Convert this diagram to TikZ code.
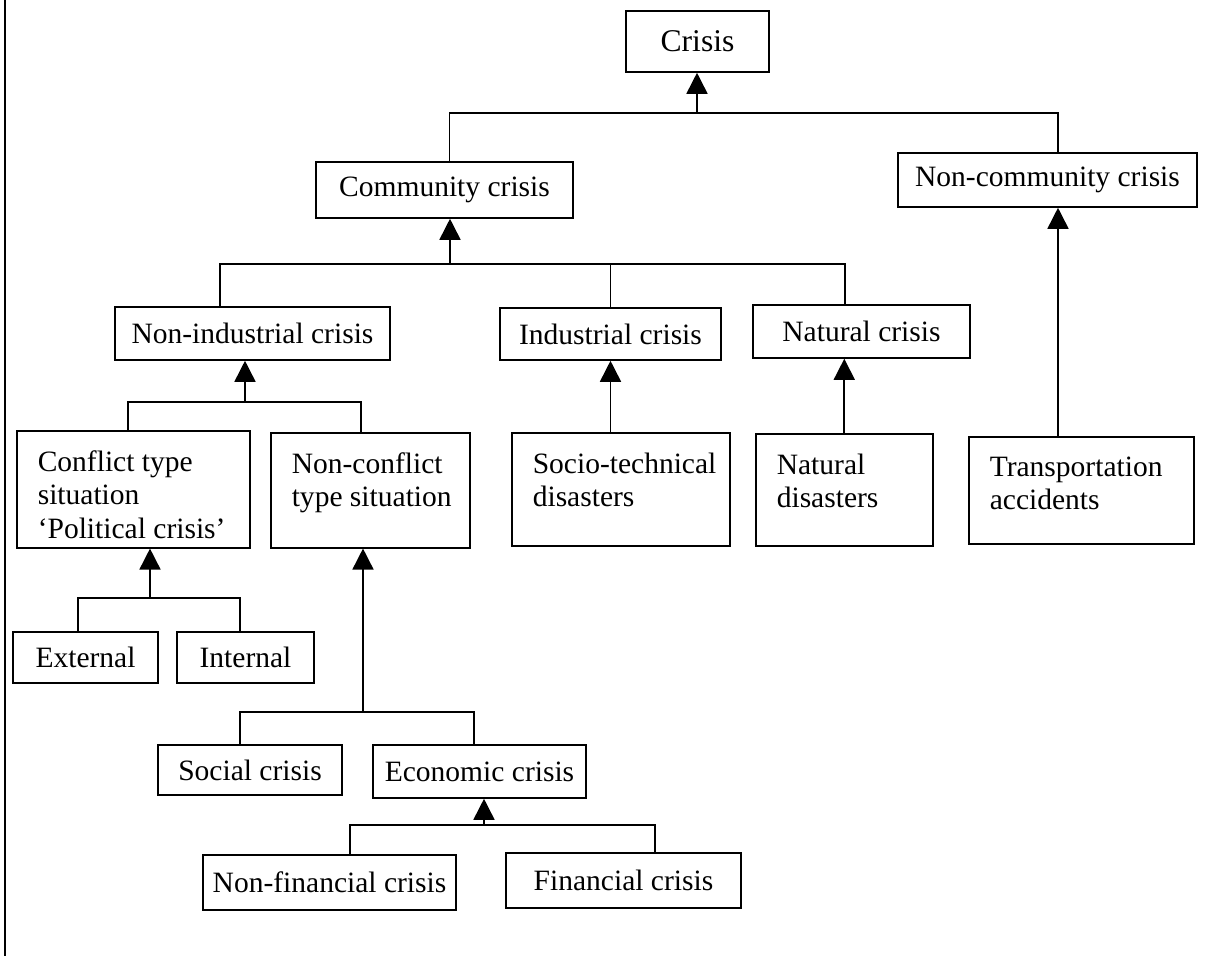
\documentclass[tikz,border=0pt]{standalone}
\usepackage{fontspec}
\setmainfont{Liberation Serif}
\usetikzlibrary{arrows.meta}
\tikzset{
  box/.style={draw, line width=0.9pt, inner sep=0pt, font=\fontsize{16.8}{19}\selectfont},
  tall/.style={box, anchor=north west},
  arr/.style={line width=0.9pt, -{Triangle[width=0.42cm,length=0.42cm]}},
  link/.style={line width=0.9pt}
}
% text at the top left of a tall box
\newcommand{\topleft}[3]{\parbox[b][#2][t]{#1}{\raggedright\leftskip=0.42cm\vspace*{0.4cm}#3}}

\begin{document}
\begin{tikzpicture}[x=0.02cm,y=-0.02cm]
\useasboundingbox (0,0) rectangle (1211,959);
\draw[line width=0.8pt] (5,0) -- (5,956);

% level 0 and 1
\node[box, minimum width=2.86cm, minimum height=1.22cm, font=\fontsize{18}{20}\selectfont] (crisis) at (697.5,41.5) {Crisis};
\node[box, minimum width=5.14cm, minimum height=1.12cm] (comm) at (444.5,190) {Community crisis};
\node[box, minimum width=5.98cm, minimum height=1.08cm] (noncomm) at (1047.5,180) {Non-community crisis};

% level 2
\node[box, minimum width=5.5cm, minimum height=1.06cm] (nonind) at (252.5,333.5) {Non-industrial crisis};
\node[box, minimum width=4.42cm, minimum height=1.04cm] (indcr) at (610.5,334) {Industrial crisis};
\node[box, minimum width=4.34cm, minimum height=1.06cm] (natcr) at (861.5,331.5) {Natural crisis};

% level 3
\node[tall] (conflict) at (16,430) {\topleft{4.66cm}{2.34cm}{Conflict type\\situation\\`Political crisis'}};
\node[tall] (noncon) at (270,432) {\topleft{3.98cm}{2.3cm}{Non-conflict\\type situation}};
\node[tall] (socio) at (511,432) {\topleft{4.36cm}{2.26cm}{Socio-technical\\disasters}};
\node[tall] (natdis) at (755,433) {\topleft{3.54cm}{2.24cm}{Natural\\disasters}};
\node[tall] (transp) at (968,436) {\topleft{4.5cm}{2.14cm}{Transportation\\accidents}};

% level 4
\node[box, minimum width=2.9cm, minimum height=1.02cm] (ext) at (85.5,657.5) {External};
\node[box, minimum width=2.74cm, minimum height=1.02cm] (int) at (245.5,657.5) {Internal};
\node[box, minimum width=3.68cm, minimum height=1.0cm] (social) at (250,770) {Social crisis};
\node[box, minimum width=4.26cm, minimum height=1.06cm] (econ) at (479.5,771.5) {Economic crisis};

% level 5
\node[box, minimum width=5.06cm, minimum height=1.1cm] (nonfin) at (329.5,882.5) {Non-financial crisis};
\node[box, minimum width=4.7cm, minimum height=1.1cm] (fin) at (623.5,880.5) {Financial crisis};

% junctions
\coordinate (j0) at (697,113);
\coordinate (j1) at (450,264);
\coordinate (j2) at (245,402);
\coordinate (j3) at (150,598);
\coordinate (j4) at (363,712);
\coordinate (j5) at (484,825);

\draw[arr] (j0) -- (j0 |- crisis.south);
\draw[link] ([xshift=0.1cm]comm.north) |- (j0) -| ([xshift=0.21cm]noncomm.north);

\draw[arr] (j1) -- (j1 |- comm.south);
\draw[link] ([xshift=-0.65cm]nonind.north) |- (j1) -| ([xshift=-0.33cm]natcr.north);
\draw[link] (indcr.north) -- (indcr.north |- j1);

\draw[arr] (j2) -- (j2 |- nonind.south);
\draw[link] ([xshift=-0.11cm]conflict.north) |- (j2) -| ([xshift=-0.19cm]noncon.north);

\draw[arr] (j3) -- (j3 |- conflict.south);
\draw[link] ([xshift=-0.15cm]ext.north) |- (j3) -| ([xshift=-0.11cm]int.north);

\draw[arr] (j4) -- (j4 |- noncon.south);
\draw[link] ([xshift=-0.2cm]social.north) |- (j4) -| ([xshift=-0.11cm]econ.north);

\draw[arr] (j5) -- (j5 |- econ.south);
\draw[link] ([xshift=0.41cm]nonfin.north) |- (j5) -| ([xshift=0.63cm]fin.north);

\draw[arr] (indcr.south |- socio.north) -- (indcr.south);
\draw[arr] (natdis.north) -- (natdis.north |- natcr.south);
\draw[arr] ([xshift=0.21cm]noncomm.south |- transp.north) -- ([xshift=0.21cm]noncomm.south);
\end{tikzpicture}
\end{document}
